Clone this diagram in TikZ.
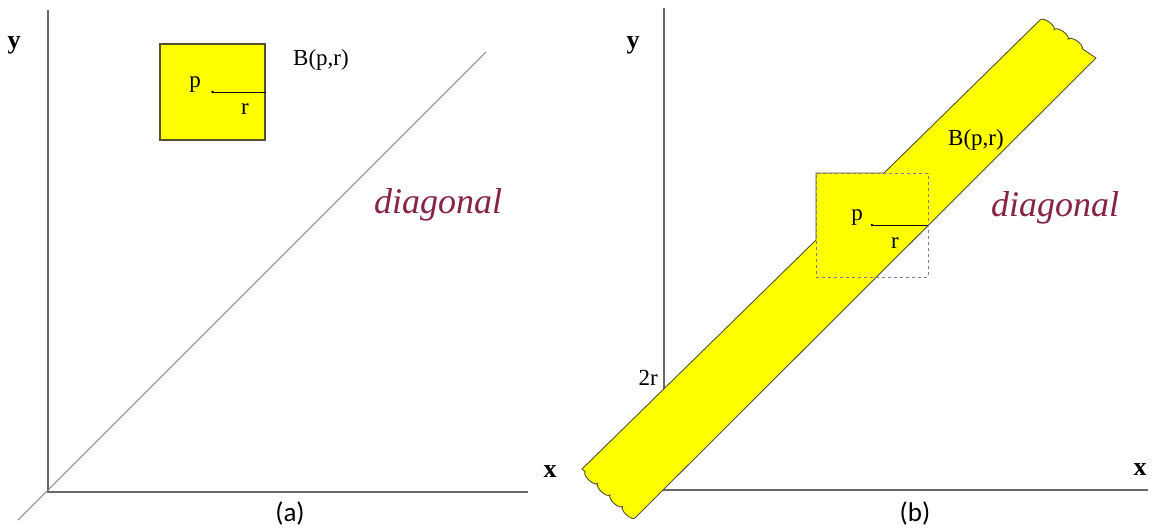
\documentclass[tikz,border=0pt]{standalone}
\usepackage{fontspec}
\setmainfont{Liberation Serif}
\newfontfamily\capfont{Carlito}
\usetikzlibrary{decorations.pathmorphing}
\definecolor{axisgray}{RGB}{105,105,105}
\definecolor{ballyellow}{RGB}{255,255,0}
\definecolor{edgeolive}{RGB}{80,80,50}
\definecolor{diagred}{RGB}{135,35,70}
\begin{document}
\begin{tikzpicture}[
    x=1pt, y=-1pt,
    axis/.style={draw=axisgray, line width=1.4pt},
    ball/.style={fill=ballyellow, draw=edgeolive, line width=1.1pt},
    dashbox/.style={draw=gray, dashed, line width=0.9pt, inner sep=0pt},
    lbl/.style={inner sep=0pt, font=\fontsize{23}{25}\selectfont},
    axlbl/.style={inner sep=0pt, font=\fontsize{26}{28}\selectfont\bfseries},
    diag/.style={inner sep=0pt, text=diagred, font=\fontsize{36}{40}\selectfont\itshape},
    sublbl/.style={inner sep=0pt, font=\capfont\fontsize{27}{30}\selectfont},
    wavy/.style={decoration={bumps, segment length=34pt, amplitude=3.5pt}}
  ]
  \useasboundingbox (0,0) rectangle (1156,531);
  % (a)
  \coordinate (oa) at (48,492);
  \coordinate (ya) at (48,10);
  \coordinate (xa) at (528,492);
  \draw[axis] (ya) -- (oa) -- (xa);
  \coordinate (da) at (18,520);
  \coordinate (de) at (486,52);
  \draw[gray, line width=0.8pt] (da) -- (de);
  \node[ball, minimum width=105pt, minimum height=96pt, inner sep=0pt] (boxa) at (212.5,92) {};
  \fill (boxa.center) circle (1.3pt);
  \draw[line width=1pt] (boxa.center) -- (boxa.east);
  \node[lbl] (pa) at (195,85) {p};
  \node[lbl] (ra) at (245,109) {r};
  \node[lbl] (ba) at (321,60) {B(p,r)};
  \node[axlbl] (yla) at (14,45) {y};
  \node[axlbl] (xla) at (550,472) {x};
  \node[diag] (dla) at (438,205) {diagonal};
  \node[sublbl] (capa) at (290,513) {(a)};
  % (b)
  \coordinate (ob) at (664,490);
  \coordinate (yb) at (664,8);
  \coordinate (xb) at (1148,490);
  \draw[axis] (yb) -- (ob) -- (xb);
  \coordinate (bl1) at (582,469);
  \coordinate (bl2) at (635,518);
  \coordinate (tr1) at (1040,20);
  \coordinate (tr2) at (1096,58);
  \draw[fill=ballyellow, draw=edgeolive, line width=0.9pt]
    (bl1) -- (816,240) -- (816,173) -- (884,173) -- (tr1)
    decorate[wavy] {-- (tr2)} -- (bl2)
    decorate[wavy] {-- (bl1)} -- cycle;
  \node[dashbox, minimum width=112pt, minimum height=104pt] (boxb) at (872,225) {};
  \fill (boxb.center) circle (1.3pt);
  \draw[line width=1pt] (boxb.center) -- (boxb.east);
  \node[lbl] (pb) at (857,218) {p};
  \node[lbl] (rb) at (895,243) {r};
  \node[lbl] (bb) at (976,140) {B(p,r)};
  \node[lbl, anchor=east] (twor) at (658,378) {2r};
  \node[axlbl] (ylb) at (633,45) {y};
  \node[axlbl] (xlb) at (1140,470) {x};
  \node[diag] (dlb) at (1055,208) {diagonal};
  \node[sublbl] (capb) at (915,513) {(b)};
\end{tikzpicture}
\end{document}
